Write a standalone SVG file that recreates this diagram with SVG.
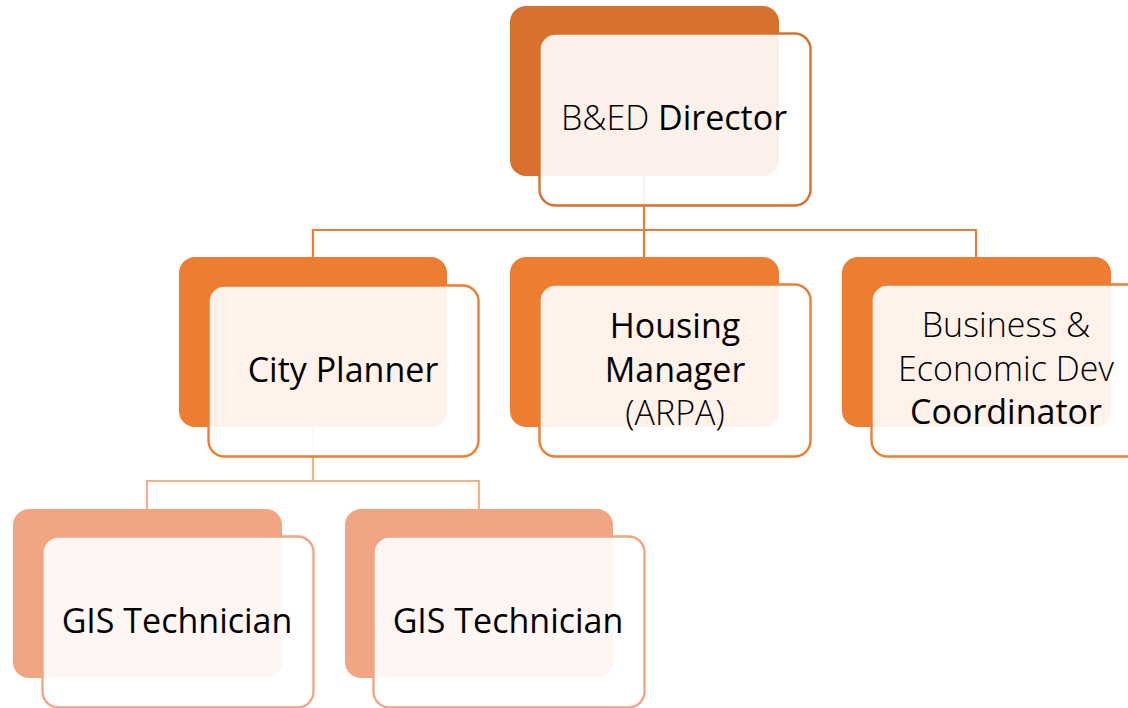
<svg xmlns="http://www.w3.org/2000/svg" width="1128" height="708" viewBox="0 0 1128 708">
<style>
.bg{fill:#ffffff}
.b1{fill:#D9712E}
.b2{fill:#ED7D31}
.b3{fill:#F2A583}
.f{fill:#ffffff;fill-opacity:0.9;stroke-width:2.4}
.f1{stroke:#D9712E}
.f2{stroke:#ED7D31}
.f3{stroke:#F2A583}
.c1{fill:none;stroke:#ED7D31;stroke-width:2.2}
.c2{fill:none;stroke:#F4B183;stroke-width:2.2}
text{font-family:"Open Sans","Noto Sans",sans-serif;font-size:34px;fill:#000;text-anchor:middle}
.l{font-weight:300}
</style>
<rect class="bg" x="0" y="0" width="1128" height="708"/>
<g id="connectors">
<path class="c1" d="M644,176 V230 M313,257 V230 H976 V257 M644,230 V257"/>
<path class="c2" d="M313,427 V481 M147,509 V481 H479 V509"/>
</g>
<g id="director">
<rect class="b1" x="510" y="6" width="269" height="170" rx="16"/>
<rect class="f f1" x="539.5" y="33.5" width="271" height="172" rx="16"/>
<text x="674" y="130"><tspan class="l">B&amp;ED</tspan> Director</text>
</g>
<g id="city-planner">
<rect class="b2" x="179" y="257" width="268" height="170" rx="16"/>
<rect class="f f2" x="208.5" y="285.5" width="270" height="171" rx="16"/>
<text x="343" y="382">City Planner</text>
</g>
<g id="housing-manager">
<rect class="b2" x="510" y="257" width="269" height="170" rx="16"/>
<rect class="f f2" x="539.5" y="284.5" width="271" height="172" rx="16"/>
<text x="675" y="338">Housing</text>
<text x="675" y="382">Manager</text>
<text x="675" y="425" class="l">(ARPA)</text>
</g>
<g id="business-coordinator">
<rect class="b2" x="842" y="257" width="269" height="170" rx="16"/>
<rect class="f f2" x="871.5" y="284.5" width="271" height="172" rx="16"/>
<text x="1006" y="337" class="l">Business &amp;</text>
<text x="1006" y="381" class="l">Economic Dev</text>
<text x="1006" y="424">Coordinator</text>
</g>
<g id="gis-technician-1">
<rect class="b3" x="13" y="509" width="269" height="169" rx="16"/>
<rect class="f f3" x="42.5" y="536.5" width="271" height="171" rx="16"/>
<text x="177" y="633">GIS Technician</text>
</g>
<g id="gis-technician-2">
<rect class="b3" x="345" y="509" width="268" height="169" rx="16"/>
<rect class="f f3" x="373.5" y="536.5" width="271" height="171" rx="16"/>
<text x="508" y="633">GIS Technician</text>
</g>
</svg>
